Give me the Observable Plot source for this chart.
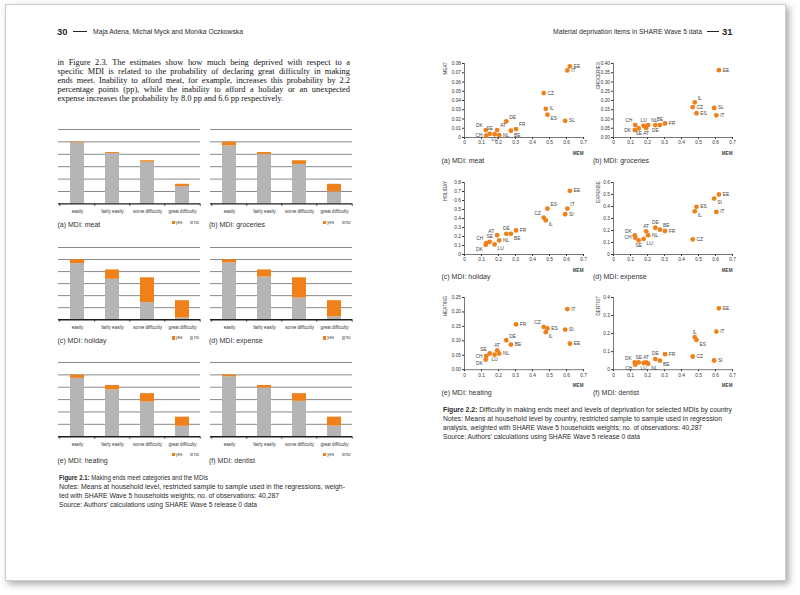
<!DOCTYPE html>
<html>
<head>
<meta charset="utf-8">
<script src="https://cdn.jsdelivr.net/npm/d3@7"></script>
<script src="https://cdn.jsdelivr.net/npm/@observablehq/plot@0.6"></script>
<style>
html,body{margin:0;padding:0;background:#fff;}
#root{position:relative;width:800px;height:595px;overflow:hidden;}
#page{position:absolute;left:5px;top:4px;width:779px;height:575px;border:1px solid #cdcdcd;background:#fff;box-shadow:3px 3px 7px rgba(0,0,0,0.35);}
.t{position:absolute;white-space:nowrap;transform-origin:0 50%;}
.fig{position:absolute;}
.fig svg{overflow:visible;background:transparent;display:block;}
.sw{position:absolute;}
</style>
</head>
<body>
<div id="root"><div id="page"></div></div>
<script>
// ---------- Figure 2.1 data (stacked bars, share of households) ----------
const categories = ["easily", "fairly easily", "some difficulty", "great difficulty"];
const gridValues = [5, 10, 15, 20, 25, 30];

const noMeat      = [24.6, 20.3, 16.8, 7.0];
const yesMeat     = [0.3, 0.4, 0.6, 0.9];
const noGroceries = [23.4, 19.9, 15.9, 4.8];
const yesGroceries= [1.5, 0.8, 1.5, 3.1];
const noHoliday   = [23.3, 16.8, 7.1, 0.7];
const yesHoliday  = [1.6, 3.9, 10.3, 7.2];
const noExpense   = [23.6, 17.7, 9.0, 1.2];
const yesExpense  = [1.3, 3.0, 8.4, 6.7];
const noHeating   = [23.6, 18.9, 14.0, 4.2];
const yesHeating  = [1.3, 1.8, 3.4, 3.7];
const noDentist   = [24.2, 19.7, 14.3, 4.3];
const yesDentist  = [0.7, 1.0, 3.1, 3.6];

// ---------- Figure 2.2 data (country means) ----------
const countries = ["CH","DK","SE","LU","AT","NL","DE","BE","FR","CZ","IL","ES","SI","IT","EE"];
const mem       = [0.128,0.125,0.148,0.177,0.192,0.204,0.246,0.273,0.303,0.466,0.478,0.488,0.592,0.605,0.620];
const meat      = [0.002,0.008,0.004,0.0035,0.008,0.0025,0.0175,0.0073,0.0091,0.048,0.031,0.0247,0.018,0.0725,0.077];
const groceries = [0.067,0.040,0.049,0.064,0.051,0.067,0.067,0.067,0.076,0.164,0.190,0.131,0.160,0.120,0.364];
const holiday   = [0.127,0.108,0.141,0.112,0.215,0.156,0.230,0.230,0.267,0.410,0.380,0.510,0.447,0.510,0.707];
const expense   = [0.140,0.160,0.117,0.130,0.193,0.160,0.223,0.207,0.196,0.126,0.360,0.397,0.466,0.355,0.500];
const heating   = [0.047,0.035,0.056,0.052,0.067,0.056,0.102,0.087,0.157,0.148,0.130,0.143,0.139,0.210,0.090];
const dentist   = [0.028,0.040,0.040,0.037,0.040,0.033,0.059,0.050,0.086,0.073,0.180,0.165,0.051,0.211,0.340];

const memTicks       = [0, 0.1, 0.2, 0.3, 0.4, 0.5, 0.6, 0.7];
const meatTicks      = [0, 0.01, 0.02, 0.03, 0.04, 0.05, 0.06, 0.07, 0.08];
const groceriesTicks = [0, 0.05, 0.10, 0.15, 0.20, 0.25, 0.30, 0.35, 0.40];
const holidayTicks   = [0, 0.1, 0.2, 0.3, 0.4, 0.5, 0.6, 0.7, 0.8];
const expenseTicks   = [0, 0.1, 0.2, 0.3, 0.4, 0.5, 0.6];
const heatingTicks   = [0, 0.05, 0.10, 0.15, 0.20, 0.25];
const dentistTicks   = [0, 0.1, 0.2, 0.3, 0.4];

// ---------- styling / layout ----------
const ORANGE = "#f08019", GRAY = "#b5b5b5";
const SANS = '"Liberation Sans", Arial, sans-serif';
const SERIF = '"Liberation Serif", "Times New Roman", serif';
const root = document.getElementById("root");

function txt(x, yc, html, o = {}) {
  const size = o.size ?? 7;
  const d = document.createElement("div");
  d.className = "t";
  d.style.left = x + "px";
  d.style.top = (yc - size * 0.6) + "px";
  d.style.fontSize = size + "px";
  d.style.lineHeight = (size * 1.2) + "px";
  d.style.fontFamily = o.family ?? SANS;
  d.style.fontWeight = o.weight ?? 400;
  d.style.color = o.color ?? "#2a2a2a";
  d.innerHTML = html;
  root.appendChild(d);
  if (o.w) {
    const cw = d.getBoundingClientRect().width;
    if (o.justify) {
      const spaces = (d.textContent.match(/ /g) || []).length;
      if (spaces) d.style.wordSpacing = ((o.w - cw) / spaces) + "px";
    } else {
      d.style.transform = `scaleX(${o.w / cw})`;
    }
  }
  return d;
}
function rect(x, y, w, h, color) {
  const d = document.createElement("div");
  d.className = "sw";
  d.style.cssText = `left:${x}px;top:${y}px;width:${w}px;height:${h}px;background:${color};`;
  root.appendChild(d);
}
function place(svg, x, y) {
  const d = document.createElement("div");
  d.className = "fig";
  d.style.left = x + "px";
  d.style.top = y + "px";
  d.appendChild(svg);
  root.appendChild(d);
}

// ---------- page headers and body text ----------
txt(57, 31.7, "30", {size: 8.5, weight: 700, w: 10.5});
rect(73, 31.3, 14, 0.9, "#222");
txt(93, 31.7, "Maja Adena, Michał Myck and Monika Oczkowska", {size: 6.5, w: 150});

txt(553, 31.7, "Material deprivation items in SHARE Wave 5 data", {size: 6.5, w: 149});
rect(707, 31.3, 12, 0.9, "#222");
txt(722, 31.7, "31", {size: 8.5, weight: 700, w: 10.5});

const para = [
  "in Figure 2.3. The estimates show how much being deprived with respect to a",
  "specific MDI is related to the probability of declaring great difficulty in making",
  "ends meet. Inability to afford meat, for example, increases this probability by 2.2",
  "percentage points (pp), while the inability to afford a holiday or an unexpected",
  "expense increases the probability by 8.0 pp and 6.6 pp respectively."
];
para.forEach((line, i) => {
  txt(57.5, 62.7 + i * 9.2, line, {size: 8.4, family: SERIF, color: "#111",
    w: i < para.length - 1 ? 292.5 : null, justify: true});
});

// ---------- Figure 2.1: bar charts ----------
const barSets = [
  {no: noMeat, yes: yesMeat, cap: "(a) MDI: meat"},
  {no: noGroceries, yes: yesGroceries, cap: "(b) MDI: groceries"},
  {no: noHoliday, yes: yesHoliday, cap: "(c) MDI: holiday"},
  {no: noExpense, yes: yesExpense, cap: "(d) MDI: expense"},
  {no: noHeating, yes: yesHeating, cap: "(e) MDI: heating"},
  {no: noDentist, yes: yesDentist, cap: "(f) MDI: dentist"}
];
const barCols = [58, 209.5], barW = 142;
const barRows = [{top: 129.3, h: 74.4, cap: 225}, {top: 246.7, h: 72.2, cap: 341.5}, {top: 361.5, h: 74.2, cap: 461}];

function barPlot(s, h) {
  const mt = 2, mb = 14;
  const rows = [];
  categories.forEach((c, i) => {
    rows.push({cat: c, ans: "no", v: s.no[i]});
    rows.push({cat: c, ans: "yes", v: s.yes[i]});
  });
  const step = barW / categories.length;
  const tickLen = 2.5 * 30 / h;
  const tickOpts = {y1: 0, y2: -tickLen, stroke: "#1e1e1e", strokeWidth: 0.8};
  return Plot.plot({
    width: barW + 2, height: mt + h + mb,
    marginLeft: 1, marginRight: 1, marginTop: mt, marginBottom: mb,
    style: {fontFamily: SANS, fontSize: "4.6px", color: "#333", background: "transparent", overflow: "visible"},
    x: {domain: categories, paddingInner: 0.6, paddingOuter: 0.3, axis: null},
    y: {domain: [0, 30], axis: null},
    color: {domain: ["yes", "no"], range: [ORANGE, GRAY]},
    marks: [
      Plot.ruleY(gridValues, {stroke: "#7c7c7c", strokeWidth: 0.9}),
      Plot.barY(rows, {x: "cat", y: "v", fill: "ans"}),
      Plot.ruleY([0], {stroke: "#1e1e1e", strokeWidth: 1.4}),
      Plot.ruleX(categories, {x: d => d, dx: -step / 2, ...tickOpts}),
      Plot.ruleX(categories.slice(-1), {x: d => d, dx: step / 2, ...tickOpts}),
      Plot.text(categories, {x: d => d, y: 0, dy: 7.5, text: d => d, fontSize: 4.6, fill: "#333"})
    ]
  });
}
function legend(right, yc) {
  rect(right - 28.3, yc - 1.8, 3.3, 3.6, ORANGE);
  txt(right - 24.6, yc, "yes", {size: 4.5, color: "#444"});
  rect(right - 10, yc - 1.8, 3.3, 3.6, GRAY);
  txt(right - 6, yc, "no", {size: 4.5, color: "#444"});
}
barSets.forEach((s, k) => {
  const col = k % 2, row = Math.floor(k / 2);
  const R = barRows[row], x0 = barCols[col];
  place(barPlot(s, R.h), x0 - 1, R.top - 2);
  legend(x0 + barW, R.top + R.h + 19);
  txt(x0 - 0.5, R.cap, s.cap, {size: 7, color: "#333"});
});

txt(59, 478, "<b>Figure 2.1:</b> Making ends meet categories and the MDIs", {size: 6.5, w: 149});
txt(59, 487, "Notes: Means at household level, restricted sample to sample used in the regressions, weigh-", {size: 6.5, w: 286});
txt(59, 496, "ted with SHARE Wave 5 households weights; no. of observations: 40,287", {size: 6.5, w: 220});
txt(59, 505, "Source: Authors’ calculations using SHARE Wave 5 release 0 data", {size: 6.5, w: 198});

// ---------- Figure 2.2: scatter plots ----------
const POS = {
  r:  {dx: 3.8, dy: 0, textAnchor: "start"},
  l:  {dx: -3.8, dy: 0, textAnchor: "end"},
  t:  {dx: 0, dy: -5.2, textAnchor: "middle"},
  b:  {dx: 0, dy: 5.2, textAnchor: "middle"},
  tr: {dx: 3, dy: -4.2, textAnchor: "start"},
  tl: {dx: -3, dy: -4.2, textAnchor: "end"},
  br: {dx: 3, dy: 4.2, textAnchor: "start"},
  bl: {dx: -3, dy: 4.2, textAnchor: "end"}
};
const scatSets = [
  {v: meat, ticks: meatTicks, dec: 2, zero: true, title: "MEAT", cap: "(a) MDI: meat", lab: {SI: "SL"},
   pos: {EE:"r",IT:"r",CZ:"r",IL:"r",ES:"br",SI:"r",DE:"tr",FR:"tr",BE:"br",AT:"tr",NL:"r",SE:"t",DK:"tl",CH:"l",LU:"b"}},
  {v: groceries, ticks: groceriesTicks, dec: 2, zero: false, title: "GROCERIES", cap: "(b) MDI: groceries", lab: {SI: "SL"},
   pos: {EE:"r",IL:"tr",CZ:"r",ES:"r",SI:"r",IT:"r",CH:"tl",LU:"t",NL:"tr",BE:"t",FR:"r",DK:"l",SE:"b",AT:"b",DE:"b"}},
  {v: holiday, ticks: holidayTicks, dec: 1, zero: true, title: "HOLIDAY", cap: "(c) MDI: holiday", lab: {},
   pos: {EE:"r",ES:"tr",IT:"tr",SI:"r",CZ:"tl",IL:"br",DE:"t",BE:"br",FR:"r",AT:"tl",NL:"r",SE:"t",CH:"tl",DK:"bl",LU:"br"}},
  {v: expense, ticks: expenseTicks, dec: 1, zero: true, title: "EXPENSE", cap: "(d) MDI: expense", lab: {},
   pos: {EE:"r",SI:"br",ES:"r",IL:"br",IT:"r",CZ:"r",DE:"t",BE:"tr",FR:"r",AT:"t",NL:"r",DK:"tl",CH:"l",SE:"b",LU:"br"}},
  {v: heating, ticks: heatingTicks, dec: 2, zero: false, title: "HEATING", cap: "(e) MDI: heating", lab: {},
   pos: {IT:"r",FR:"r",CZ:"tl",ES:"r",SI:"r",IL:"br",EE:"r",DE:"tr",BE:"r",AT:"t",NL:"r",SE:"tl",CH:"l",LU:"b",DK:"bl"}},
  {v: dentist, ticks: dentistTicks, dec: 1, zero: true, title: "DENTIST", cap: "(f) MDI: dentist", lab: {},
   pos: {EE:"r",IT:"r",IL:"t",ES:"br",CZ:"r",SI:"r",FR:"r",DE:"t",BE:"br",DK:"tl",SE:"t",AT:"t",CH:"bl",LU:"b",NL:"br"}}
];
const scatCols = [463.5, 613], scatW = 119;
const titleX = [443, 596.5];
const scatRows = [{top: 63, h: 74, cap: 161}, {top: 182.3, h: 72, cap: 277.5}, {top: 297.4, h: 72.2, cap: 393.5}];
const capX = [441.5, 593];

function scatterPlot(s, col, h) {
  const ml = 30, mr = 10, mt = 8, mb = 24;
  const pts = countries.map((c, i) => ({label: s.lab[c] || c, x: mem[i], y: s.v[i], pos: s.pos[c]}));
  const fmtY = d => (d === 0 && s.zero) ? "0" : d.toFixed(s.dec);
  const fmtX = d => d === 0 ? "0" : d.toFixed(1);
  const labelMarks = Object.entries(POS).map(([k, o]) =>
    Plot.text(pts.filter(d => d.pos === k), {x: "x", y: "y", text: "label", ...o, fontSize: 4.9, fill: "#444"}));
  return Plot.plot({
    width: ml + scatW + mr, height: mt + h + mb,
    marginLeft: ml, marginRight: mr, marginTop: mt, marginBottom: mb,
    style: {fontFamily: SANS, fontSize: "4.8px", color: "#333", background: "transparent", overflow: "visible"},
    x: {domain: [0, 0.7], ticks: memTicks, tickFormat: fmtX, tickSize: 2, tickPadding: 1.5, label: null},
    y: {domain: [0, s.ticks[s.ticks.length - 1]], ticks: s.ticks, tickFormat: fmtY, tickSize: 2, tickPadding: 1.5, label: null},
    marks: [
      Plot.ruleY([0], {stroke: "#555", strokeWidth: 0.8}),
      Plot.ruleX([0], {stroke: "#555", strokeWidth: 0.8}),
      Plot.dot(pts, {x: "x", y: "y", r: 2.4, fill: ORANGE}),
      ...labelMarks,
      Plot.text(["MEM"], {frameAnchor: "bottom-right", text: d => d, dy: 17.5, textAnchor: "end", fontSize: 4.6, fontWeight: 700, fill: "#444"}),
      Plot.text([s.title], {frameAnchor: "top-left", text: d => d, rotate: -90, textAnchor: "end",
        dx: titleX[col] - scatCols[col], dy: -1.5, fontSize: 4.6, fill: "#444"})
    ]
  });
}
scatSets.forEach((s, k) => {
  const col = k % 2, row = Math.floor(k / 2);
  const R = scatRows[row];
  place(scatterPlot(s, col, R.h), scatCols[col] - 30, R.top - 8);
  txt(capX[col], R.cap, s.cap, {size: 7, color: "#333"});
});

txt(443, 410, "<b>Figure 2.2:</b> Difficulty in making ends meet and levels of deprivation for selected MDIs by country", {size: 6.5, w: 289});
txt(443, 419, "Notes: Means at household level by country, restricted sample to sample used in regression", {size: 6.5, w: 279});
txt(443, 428, "analysis, weighted with SHARE Wave 5 households weights; no. of observations: 40,287", {size: 6.5, w: 259});
txt(443, 437, "Source: Authors’ calculations using SHARE Wave 5 release 0 data", {size: 6.5, w: 197});
</script>
</body>
</html>
